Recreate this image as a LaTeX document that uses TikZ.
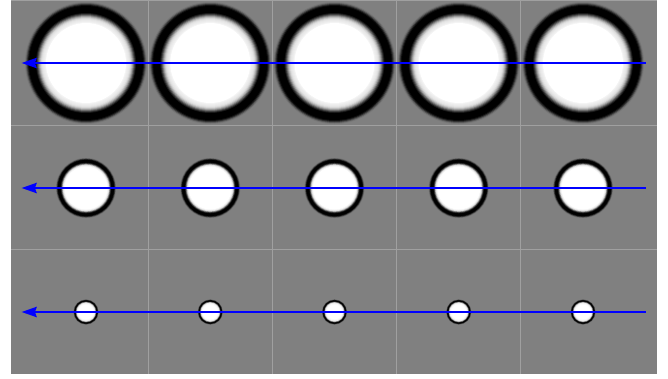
\documentclass[tikz,border=0pt]{standalone}
\usetikzlibrary{arrows.meta}
\definecolor{bg}{RGB}{128,128,128}
\definecolor{gridc}{RGB}{160,160,160}
\definecolor{arrblue}{RGB}{0,0,255}
\tikzset{
  gridline/.style={draw=gridc, line width=0.8pt},
  flow/.style={draw=arrblue, line width=2.7pt, -{Stealth[length=15pt,width=10pt,inset=1.5pt]}},
}
\newcommand{\ringprofile}[3]{% center x, center y, list of radius/gray
  \foreach \rr/\gg in {#3} {
    \fill[fill={rgb,255:red,\gg;green,\gg;blue,\gg}] (#1,#2) circle[radius=\rr pt];
  }}
\begin{document}
\begin{tikzpicture}[x=1pt,y=-1pt]
\useasboundingbox[fill=white] (0,0) rectangle (668,378);
\fill[bg] (11,0) rectangle (657,374);
% grid
\foreach \gx in {148,272,396,520} \draw[gridline] (\gx,0) -- (\gx,374);
\foreach \gy in {0.5,125,249} \draw[gridline] (11,\gy) -- (657,\gy);
% circles
\foreach \cx in {86,210.25,334.5,458.75,583} {
  \ringprofile{\cx}{63}{61/118,60/90,59/50,58/15,57/0,50/25,49/65,48/110,47/155,46/190,45/215,44/228,43/234,42/238,41/244,40/255}
  \ringprofile{\cx}{188}{30/110,29.3/60,28.6/15,28/0,25.3/30,24.6/90,23.9/170,23.2/225,22.4/245,21.5/255}
  \ringprofile{\cx}{312}{12.6/90,12.1/20,11.5/0,10.5/60,10/170,9.4/235,8.6/250,7.5/255}
}
% arrows
\coordinate (s1) at (645.5,63);  \coordinate (e1) at (21.5,63);
\coordinate (s2) at (645.5,188); \coordinate (e2) at (21.5,188);
\coordinate (s3) at (645.5,312); \coordinate (e3) at (21.5,312);
\draw[flow] (s1) -- (e1);
\draw[flow] (s2) -- (e2);
\draw[flow] (s3) -- (e3);
\end{tikzpicture}
\end{document}
